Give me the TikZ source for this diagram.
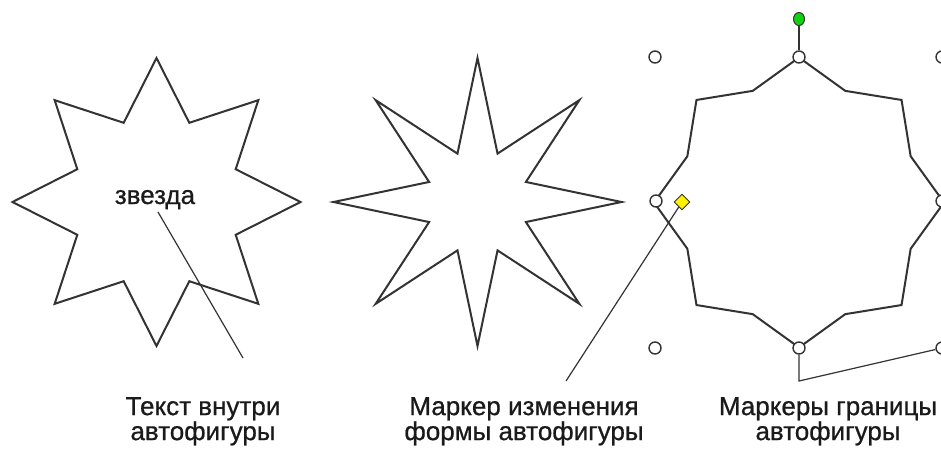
\documentclass[tikz,border=0pt]{standalone}
\usepackage{fontspec}
\newfontfamily\arialf[FakeBold=0.7]{Liberation Sans}
\usetikzlibrary{shapes.geometric}
\definecolor{outl}{HTML}{333333}
\definecolor{txt}{HTML}{1A1A1A}
\definecolor{rotg}{HTML}{10D010}
\tikzset{
  starbox/.style={star, star points=8, draw=outl, line width=2pt, fill=white,
    inner sep=0pt, minimum size=#1},
  handle/.style={circle, draw=outl, line width=1.4pt, fill=white, inner sep=0pt, minimum size=12pt},
  rothandle/.style={ellipse, draw=outl, line width=1pt, fill=rotg, inner sep=0pt, minimum width=11pt, minimum height=13pt},
  shapemark/.style={diamond, draw=outl, line width=0.9pt, fill=yellow, inner sep=0pt, minimum size=16pt},
  leader/.style={draw=outl, line width=1.2pt},
  lbl/.style={font=\arialf\fontsize{26}{25}\selectfont, text=txt, align=center, inner sep=0pt}
}
\begin{document}
\begin{tikzpicture}[x=1pt,y=-1pt]
\useasboundingbox[fill=white] (0,0) rectangle (941,450);
% star 1 with text
\node[starbox=288pt, star point ratio=1.68] (s1) at (156.5,202) {};
\node[lbl, anchor=base] (t1) at (155,204) {звезда};
\coordinate (l1a) at (158,212);
\coordinate (l1b) at (243,358);
\draw[leader] (l1a) -- (l1b);
% star 2
\node[starbox=288pt, star point ratio=2.75] (s2) at (477.5,202) {};
% star 3 (selected)
\node[starbox=290pt, star point ratio=1.2] (s3) at (799,202.5) {};
\node[handle] (htl) at (655,57) {};
\node[handle] (ht) at (799,57) {};
\node[handle] (htr) at (942,57) {};
\node[handle] (hl) at (656,201) {};
\node[handle] (hr) at (942,201) {};
\node[handle] (hbl) at (655,348) {};
\node[handle] (hb) at (799,348) {};
\node[handle] (hbr) at (942,348) {};
\node[rothandle] (g) at (799,19) {};
\draw[outl, line width=1.4pt] (g) -- (ht);
\node[shapemark] (d) at (682,202) {};
\coordinate (l2b) at (566,381);
\draw[leader] (d) -- (l2b);
\coordinate (b1) at (799,381);
\draw[leader] (hb) -- (b1) -- (hbr);
% labels
\node[lbl, anchor=north] (L1) at (203,397) {Текст внутри\\автофигуры};
\node[lbl, anchor=north] (L2) at (524,397) {Маркер изменения\\формы автофигуры};
\node[lbl, anchor=north] (L3) at (828,397) {Маркеры границы\\автофигуры};
\end{tikzpicture}
\end{document}
